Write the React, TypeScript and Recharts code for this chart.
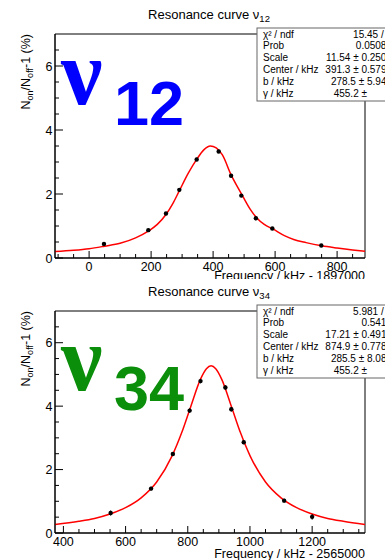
import React from 'react';
import { ComposedChart, Line, Scatter, XAxis, YAxis, ReferenceArea, ErrorBar } from 'recharts';

const freq12 = [48, 191, 248, 291, 347, 418, 458, 491, 538, 591, 749];
const val12 = [0.44, 0.87, 1.39, 2.13, 3.08, 3.33, 2.57, 1.95, 1.24, 0.92, 0.39];
const err12 = [0.04, 0.04, 0.04, 0.05, 0.05, 0.05, 0.05, 0.05, 0.04, 0.04, 0.04];
const fitF12 = [-110, -50, 0, 50, 100, 150, 191, 220, 248, 270, 291, 320, 347, 370, 391, 410, 430, 458, 480, 494, 520, 541, 565, 594, 630, 660, 700, 750, 800, 850, 890];
const fitV12 = [0.2, 0.24, 0.29, 0.37, 0.46, 0.63, 0.84, 1.05, 1.36, 1.7, 2.1, 2.65, 3.08, 3.38, 3.5, 3.44, 3.22, 2.6, 2.2, 1.96, 1.52, 1.25, 1.05, 0.9, 0.7, 0.58, 0.48, 0.38, 0.31, 0.25, 0.21];

// nu_34 resonance
const freq34 = [552, 682, 752, 806, 841, 921, 940, 980, 1110, 1200];
const val34 = [0.63, 1.4, 2.49, 3.86, 4.79, 4.59, 3.9, 2.86, 1.02, 0.51];
const err34 = [0.08, 0.06, 0.06, 0.07, 0.07, 0.07, 0.07, 0.06, 0.06, 0.09];
const fitF34 = [373, 450, 500, 550, 600, 650, 700, 750, 780, 810, 840, 860, 875, 890, 910, 940, 970, 1000, 1050, 1100, 1150, 1200, 1250, 1300, 1370];
const fitV34 = [0.27, 0.37, 0.46, 0.6, 0.8, 1.11, 1.61, 2.44, 3.15, 4.0, 4.83, 5.18, 5.27, 5.18, 4.83, 4.0, 3.15, 2.44, 1.61, 1.11, 0.8, 0.6, 0.46, 0.37, 0.27];

const yMajor = [0, 2, 4, 6];
const yTicks = [0, 0.5, 1, 1.5, 2, 2.5, 3, 3.5, 4, 4.5, 5, 5.5, 6, 6.5];
const xMajor12 = [0, 200, 400, 600, 800];
const xTicks12 = [-100, -50, 0, 50, 100, 150, 200, 250, 300, 350, 400, 450, 500, 550, 600, 650, 700, 750, 800, 850];
const xMajor34 = [400, 600, 800, 1000, 1200];
const xTicks34 = [400, 450, 500, 550, 600, 650, 700, 750, 800, 850, 900, 950, 1000, 1050, 1100, 1150, 1200, 1250, 1300, 1350];

const stats12 = [
  ['χ² / ndf', '15.45 / 8'],
  ['Prob', '0.05089'],
  ['Scale', '11.54 ± 0.2500'],
  ['Center / kHz', '391.3 ± 0.5793'],
  ['b / kHz', '278.5 ± 5.945'],
  ['γ  / kHz', '455.2 ±       0'],
];
const stats34 = [
  ['χ² / ndf', '5.981 / 7'],
  ['Prob', '0.5419'],
  ['Scale', '17.21 ± 0.4910'],
  ['Center / kHz', '874.9 ± 0.7783'],
  ['b / kHz', '285.5 ± 8.084'],
  ['γ  / kHz', '455.2 ±       0'],
];

const FONT = '"Liberation Sans", Arial, Helvetica, sans-serif';

const XTick = (props: any) => {
  const { x, y, payload, majors } = props;
  const major = majors.includes(payload.value);
  return (
    <g>
      <line x1={x} y1={y} x2={x} y2={y - (major ? 7 : 4)} stroke="#000" strokeWidth={1} />
      {major && (
        <text x={x} y={y + 12.5} textAnchor="middle" fontSize={12.5} fontFamily={FONT} fill="#000">
          {payload.value}
        </text>
      )}
    </g>
  );
};

const YTick = (props: any) => {
  const { x, y, payload } = props;
  const major = yMajor.includes(payload.value);
  return (
    <g>
      <line x1={x} y1={y} x2={x + (major ? 8 : 4)} y2={y} stroke="#000" strokeWidth={1} />
      {major && (
        <text x={x - 2.5} y={y + 4.5} textAnchor="end" fontSize={12.5} fontFamily={FONT} fill="#000">
          {payload.value}
        </text>
      )}
    </g>
  );
};

interface PanelProps {
  freqs: number[];
  vals: number[];
  errs: number[];
  fitF: number[];
  fitV: number[];
  domain: [number, number];
  ticks: number[];
  majors: number[];
  height: number;
  top: number;
  bottom: number;
}

const Panel = ({ freqs, vals, errs, fitF, fitV, domain, ticks, majors, height, top, bottom }: PanelProps) => {
  const points = freqs.map((f, i) => ({ f, v: vals[i], e: errs[i] }));
  const curve = fitF.map((f, i) => ({ f, v: fitV[i] }));
  return (
    <ComposedChart width={385} height={height} margin={{ top, right: 20, bottom: bottom - 15, left: 15 }}>
      <XAxis
        type="number"
        dataKey="f"
        domain={domain}
        allowDataOverflow
        ticks={ticks}
        interval={0}
        height={15}
        tickSize={0}
        tickMargin={0}
        axisLine={{ stroke: '#000' }}
        tickLine={false}
        tick={(p: any) => <XTick {...p} majors={majors} />}
      />
      <YAxis
        type="number"
        domain={[0, 7]}
        allowDataOverflow
        ticks={yTicks}
        interval={0}
        width={40}
        tickSize={0}
        tickMargin={0}
        axisLine={{ stroke: '#000' }}
        tickLine={false}
        tick={(p: any) => <YTick {...p} />}
      />
      <ReferenceArea x1={domain[0]} x2={domain[1]} y1={0} y2={7} fill="#fff" fillOpacity={0} stroke="#000" strokeWidth={1} strokeOpacity={1} />
      <Line data={curve} dataKey="v" type="monotone" stroke="#ff0000" strokeWidth={1.5} dot={false} isAnimationActive={false} />
      <Scatter data={points} dataKey="v" fill="#000" isAnimationActive={false} shape={(p: any) => <circle cx={p.cx} cy={p.cy} r={2.2} fill="#000" />}>
        <ErrorBar dataKey="e" direction="y" width={0} stroke="#000" strokeWidth={1} />
      </Scatter>
    </ComposedChart>
  );
};

const StatsBox = ({ rows, y }: { rows: string[][]; y: number }) => (
  <g>
    <rect x={257} y={y} width={150} height={73} fill="#fff" stroke="#666" strokeWidth={1} />
    {rows.map((r, i) => (
      <g key={i} fontFamily={FONT} fontSize={10} fill="#000">
        <text x={263} y={y + 9.5 + i * 11.8}>{r[0]}</text>
        <text x={392} y={y + 9.5 + i * 11.8} textAnchor="end" style={{ whiteSpace: 'pre' }}>{r[1]}</text>
      </g>
    ))}
  </g>
);

const Annotations = ({ dy, sub, xLabel, color, nuBase, numBase, stats, frameTop, frameRight, xLabelBase }: any) => (
  <g>
    <text x={209} y={dy + 19} textAnchor="middle" fontFamily={FONT} fontSize={13} fill="#000">
      Resonance curve ν<tspan fontSize={9.5} dy={3}>{sub}</tspan>
    </text>
    <text transform={`translate(30,${frameTop}) rotate(-90)`} textAnchor="end" fontFamily={FONT} fontSize={12.5} fill="#000">
      N<tspan fontSize={9} dy={3}>on</tspan><tspan dy={-3}>/N</tspan><tspan fontSize={9} dy={3}>off</tspan><tspan dy={-3}>-1 (%)</tspan>
    </text>
    <text x={frameRight} y={xLabelBase} textAnchor="end" fontFamily={FONT} fontSize={12.5} fill="#000">{xLabel}</text>
    <text x={61} y={nuBase} fontFamily='"Liberation Serif", "Times New Roman", serif' fontWeight="bold" fontSize={93} fill={color}>ν</text>
    <text x={114} y={numBase} fontFamily={FONT} fontWeight="bold" fontSize={63} fill={color}>{sub}</text>
    <StatsBox rows={stats} y={frameTop - 6} />
  </g>
);

export default function App() {
  return (
    <div style={{ position: 'fixed', left: 0, top: 0, width: 385, height: 560, overflow: 'hidden', background: '#fff' }}>
      <div style={{ position: 'absolute', left: 0, top: 0, width: 385, height: 279, overflow: 'hidden' }}>
        <Panel freqs={freq12} vals={val12} errs={err12} fitF={fitF12} fitV={fitV12} domain={[-110, 890]} ticks={xTicks12} majors={xMajor12} height={279} top={34} bottom={21} />
        <svg width={385} height={279} style={{ position: 'absolute', left: 0, top: 0 }}>
          <Annotations dy={0} sub="12" xLabel="Frequency / kHz - 1897000" color="#0000ff" nuBase={104} numBase={125} stats={stats12} frameTop={34} frameRight={365} xLabelBase={280} />
        </svg>
      </div>
      <div style={{ position: 'absolute', left: 0, top: 279, width: 385, height: 281, overflow: 'hidden' }}>
        <Panel freqs={freq34} vals={val34} errs={err34} fitF={fitF34} fitV={fitV34} domain={[373, 1370]} ticks={xTicks34} majors={xMajor34} height={281} top={32} bottom={27} />
        <svg width={385} height={281} style={{ position: 'absolute', left: 0, top: 0 }}>
          <Annotations dy={-2} sub="34" xLabel="Frequency / kHz - 2565000" color="#0b8f0b" nuBase={111} numBase={131} stats={stats34} frameTop={32} frameRight={365} xLabelBase={279} />
        </svg>
      </div>
    </div>
  );
}
